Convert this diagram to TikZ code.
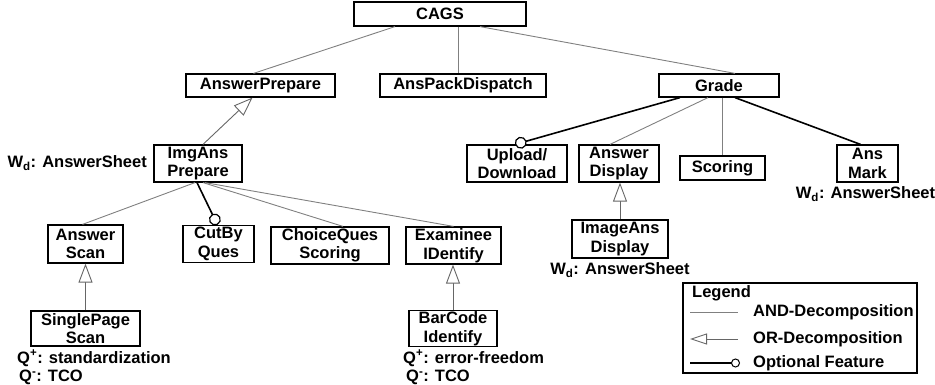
\documentclass[tikz,border=0pt]{standalone}
\usepackage{fontspec}
\setmainfont{Liberation Sans}
\usetikzlibrary{arrows.meta,positioning}

\newcommand\fsz{\fontsize{16.5}{18.5}\selectfont}

\tikzset{
  feat/.style={draw,line width=1.2pt,inner sep=1pt,align=center,font=\fsz\bfseries},
  note/.style={inner sep=0pt,align=left,font=\fsz\bfseries},
  andln/.style={draw=gray,line width=0.9pt},
  orln/.style={draw=black!60,line width=0.9pt,-{Triangle[open,length=19pt,width=14pt,fill=white]}},
  optln/.style={draw=black,line width=1.6pt,-{Circle[open,length=12pt,line width=1.2pt,fill=white]}},
  mandln/.style={draw=black,line width=1.6pt},
}

\begin{document}
\begin{tikzpicture}[x=1pt,y=-1pt]
\useasboundingbox (0,0) rectangle (935,385);

\node[feat,minimum width=172pt,minimum height=24pt] (cags) at (440,14) {CAGS};

\node[feat,minimum width=149pt,minimum height=23pt] (ansprep) at (260.5,85.5) {AnswerPrepare};
\node[feat,minimum width=166pt,minimum height=23pt] (dispatch) at (463,85.5) {AnsPackDispatch};
\node[feat,minimum width=120pt,minimum height=23pt] (grade) at (719,85.5) {Grade};

\node[feat,minimum width=88pt,minimum height=37pt] (imgans) at (198,163.5) {ImgAns\\Prepare};
\node[feat,minimum width=100pt,minimum height=37pt] (upload) at (517,163.5) {Upload/\\Download};
\node[feat,minimum width=80pt,minimum height=37pt] (ansdisp) at (619,163.5) {Answer\\Display};
\node[feat,minimum width=85pt,minimum height=24pt] (scoring) at (722.5,168) {Scoring};
\node[feat,minimum width=61pt,minimum height=37pt] (ansmark) at (867.5,163.5) {Ans\\Mark};
\node[feat,minimum width=96pt,minimum height=38pt] (imgdisp) at (620,239) {ImageAns\\Display};

\node[feat,minimum width=75pt,minimum height=38pt] (ansscan) at (85.5,244) {Answer\\Scan};
\node[feat,minimum width=71pt,minimum height=37pt] (cutby) at (218.5,244) {CutBy\\Ques};
\node[feat,minimum width=118pt,minimum height=37pt] (choice) at (330,245.5) {ChoiceQues\\Scoring};
\node[feat,minimum width=95pt,minimum height=37pt] (examinee) at (453.5,245.5) {Examinee\\IDentify};

\node[feat,minimum width=109pt,minimum height=35pt] (single) at (85.5,328.5) {SinglePage\\Scan};
\node[feat,minimum width=88pt,minimum height=35pt] (barcode) at (453,328.5) {BarCode\\Identify};

% annotations
\node[note,anchor=east] (wd1) at (147,163) {W\textsubscript{d}: AnswerSheet};
\node[note,below=4pt of ansmark,xshift=-2pt] (wd2) {W\textsubscript{d}: AnswerSheet};
\node[note,below=4pt of imgdisp] (wd3) {W\textsubscript{d}: AnswerSheet};
\node[note,anchor=north west] (qs) at (17,350) {Q\textsuperscript{+}: standardization\\\hspace{2pt}Q\textsuperscript{-}: TCO};
\node[note,anchor=north west] (qb) at (403,350) {Q\textsuperscript{+}: error-freedom\\\hspace{3pt}Q\textsuperscript{-}: TCO};

% decompositions
\draw[andln] ([xshift=-45pt]cags.south) -- ([xshift=-7pt]ansprep.north);
\draw[andln] ([xshift=18pt]cags.south) -- ([xshift=-5pt]dispatch.north);
\draw[andln] ([xshift=40pt]cags.south) -- ([xshift=16pt]grade.north);

\draw[orln] ([xshift=5pt]imgans.north) -- ([xshift=-8pt]ansprep.south);

\draw[andln] ([xshift=-3pt]imgans.south) -- ([xshift=-3pt]ansscan.north);
\draw[optln] ([xshift=-1pt]imgans.south) -- ([xshift=-1pt]cutby.north);
\draw[andln] ([xshift=5pt]imgans.south) -- ([xshift=13pt]choice.north);
\draw[andln] ([xshift=7pt]imgans.south) -- (examinee.north);

\draw[optln] ([xshift=-39pt]grade.south) -- ([xshift=-2pt]upload.north);
\draw[andln] ([xshift=-11pt]grade.south) -- ([xshift=-9pt]ansdisp.north);
\draw[andln] (scoring.north |- grade.south) -- (scoring.north);
\draw[mandln] ([xshift=16pt]grade.south) -- ([xshift=-7pt]ansmark.north);

\draw[orln] (single.north) -- (single.north |- ansscan.south);
\draw[orln] (barcode.north) -- (barcode.north |- examinee.south);
\draw[orln] (imgdisp.north) -- (imgdisp.north |- ansdisp.south);

% legend
\node[draw,line width=1.2pt,minimum width=234pt,minimum height=90pt,inner sep=0pt] (legend) at (800,328) {};
\node[note,anchor=west] (lgt) at (692,293) {Legend};
\coordinate (a1) at (690,312);
\coordinate (a2) at (738,312);
\coordinate (o1) at (690,339);
\coordinate (o2) at (738,339);
\coordinate (p1) at (690,363);
\coordinate (p2) at (740,363);
\draw[andln] (a1) -- (a2);
\draw[orln,-{Triangle[open,length=17pt,width=11pt,fill=white]}] (o2) -- (o1);
\draw[line width=1.2pt,-{Circle[open,length=9pt,line width=1pt,fill=white]}] (p1) -- (p2);
\node[note,anchor=west] (lga) at (753,312) {AND-Decomposition};
\node[note,anchor=west] (lgo) at (753,339) {OR-Decomposition};
\node[note,anchor=west] (lgp) at (753,363) {Optional Feature};
\end{tikzpicture}
\end{document}
